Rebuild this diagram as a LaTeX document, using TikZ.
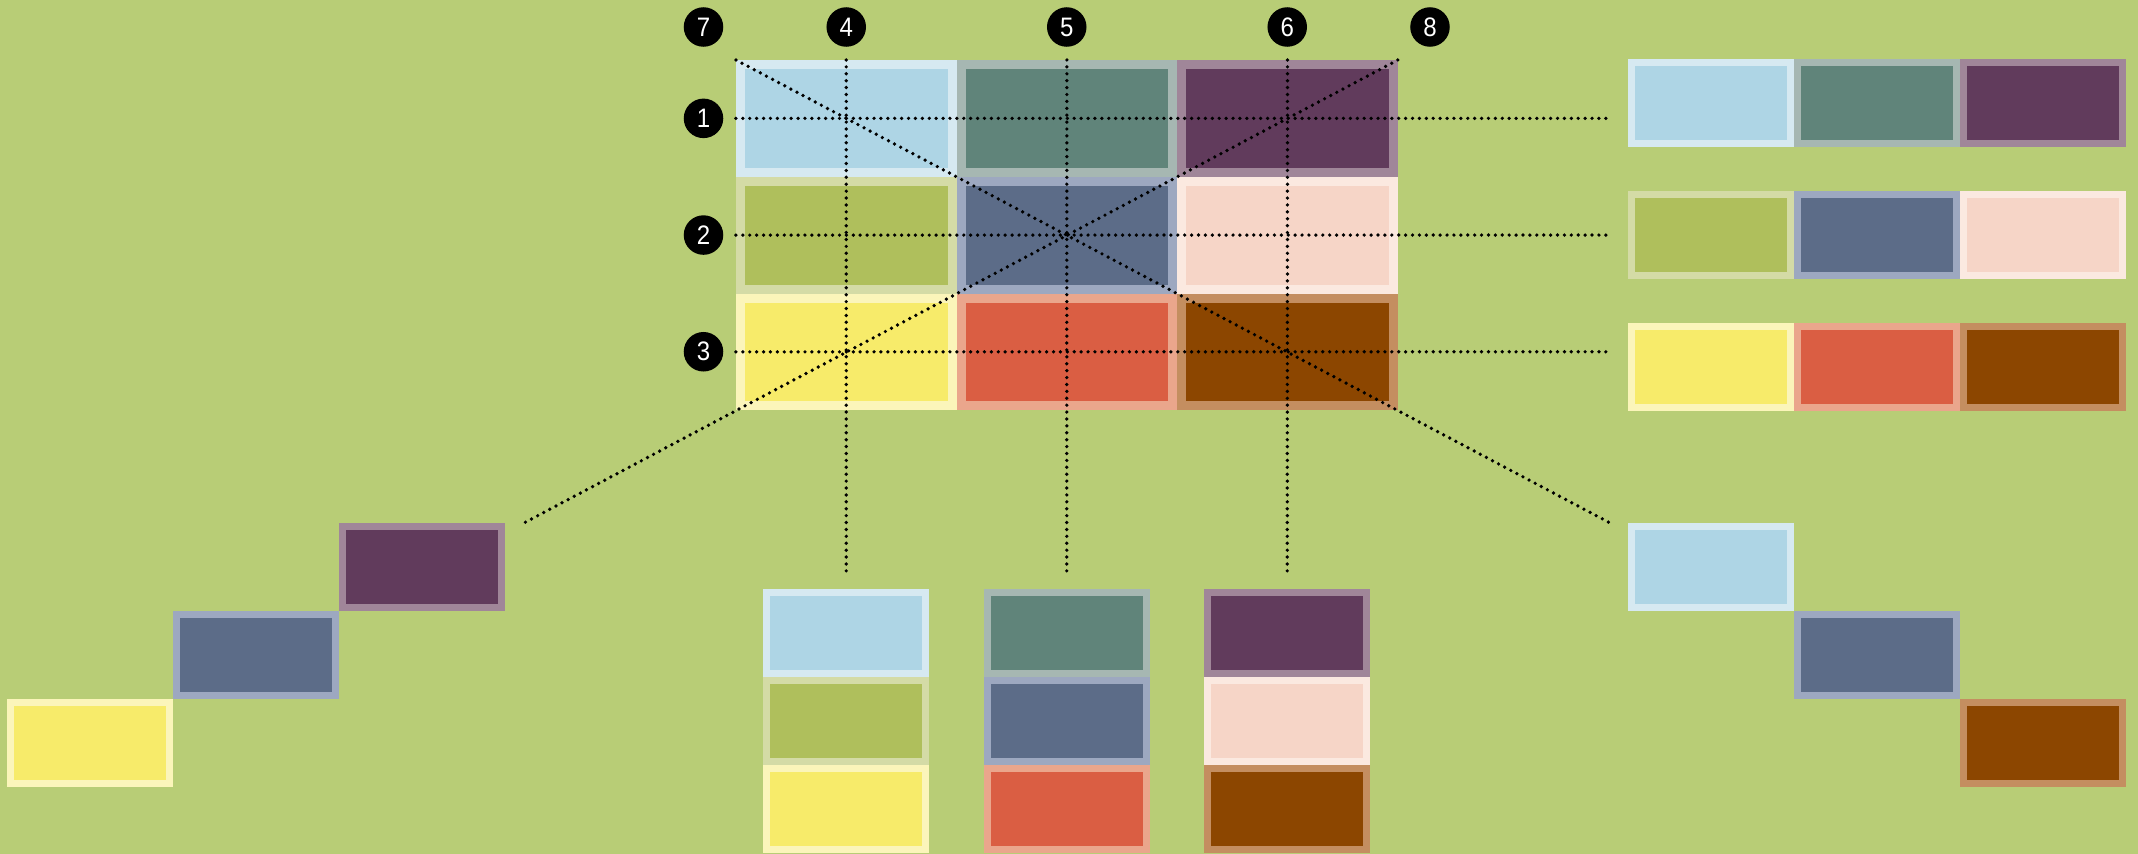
\documentclass[tikz,border=0pt]{standalone}
\usepackage{fontspec}
\newfontfamily\numfont[FakeStretch=0.9]{Liberation Sans}
\usetikzlibrary{positioning}
\definecolor{bgreen}{RGB}{184,205,118}
\definecolor{cblue}{RGB}{174,213,229}
\definecolor{cblueb}{RGB}{214,233,241}
\definecolor{cteal}{RGB}{96,132,122}
\definecolor{ctealb}{RGB}{166,183,178}
\definecolor{cplum}{RGB}{97,59,92}
\definecolor{cplumb}{RGB}{160,134,153}
\definecolor{colive}{RGB}{175,191,92}
\definecolor{coliveb}{RGB}{212,219,166}
\definecolor{cslate}{RGB}{92,108,136}
\definecolor{cslateb}{RGB}{157,168,192}
\definecolor{cpeach}{RGB}{246,213,199}
\definecolor{cpeachb}{RGB}{251,233,224}
\definecolor{cyell}{RGB}{247,235,106}
\definecolor{cyellb}{RGB}{251,245,186}
\definecolor{cred}{RGB}{218,94,67}
\definecolor{credb}{RGB}{234,166,140}
\definecolor{cbrown}{RGB}{140,70,0}
\definecolor{cbrownb}{RGB}{196,142,96}
\tikzset{
  cell/.style 2 args={fill=#1, draw=#2, line width=0.07cm, inner sep=0pt,
              minimum width=1.59cm, minimum height=0.81cm},
  gcell/.style 2 args={fill=#1, draw=#2, line width=0.09cm, inner sep=0pt,
              minimum width=2.115cm, minimum height=1.077cm},
  dotl/.style={black, line width=0.037cm, dash pattern=on 0pt off 0.069cm, line cap=round},
  num/.style={circle, fill=black, text=white, minimum size=0.395cm, inner sep=0pt,
              font=\numfont\fontsize{7.6}{8}\selectfont},
}

\begin{document}
\begin{tikzpicture}[x=0.01cm, y=-0.01cm]
    \fill[bgreen] (0,0) rectangle (2138,854);
    \useasboundingbox (0,0) rectangle (2138,854);
    % the 3x3 grid
    \node[gcell={cblue}{cblueb}] (g11) at (846.25,118.35) {};
    \node[gcell={cteal}{ctealb}, right=0pt of g11] (g12) {};
    \node[gcell={cplum}{cplumb}, right=0pt of g12] (g13) {};
    \node[gcell={colive}{coliveb}, below=0pt of g11] (g21) {};
    \node[gcell={cslate}{cslateb}, right=0pt of g21] (g22) {};
    \node[gcell={cpeach}{cpeachb}, right=0pt of g22] (g23) {};
    \node[gcell={cyell}{cyellb}, below=0pt of g21] (g31) {};
    \node[gcell={cred}{credb}, right=0pt of g31] (g32) {};
    \node[gcell={cbrown}{cbrownb}, right=0pt of g32] (g33) {};
    % rows
    \node[cell={cblue}{cblueb}] (r11) at (1711,103) {};
    \node[cell={cteal}{ctealb}, right=0pt of r11] (r12) {};
    \node[cell={cplum}{cplumb}, right=0pt of r12] (r13) {};
    \node[cell={colive}{coliveb}] (r21) at (1711,235) {};
    \node[cell={cslate}{cslateb}, right=0pt of r21] (r22) {};
    \node[cell={cpeach}{cpeachb}, right=0pt of r22] (r23) {};
    \node[cell={cyell}{cyellb}] (r31) at (1711,367) {};
    \node[cell={cred}{credb}, right=0pt of r31] (r32) {};
    \node[cell={cbrown}{cbrownb}, right=0pt of r32] (r33) {};
    % columns
    \node[cell={cblue}{cblueb}] (c41) at (846.25,633) {};
    \node[cell={colive}{coliveb}, below=0pt of c41] (c42) {};
    \node[cell={cyell}{cyellb}, below=0pt of c42] (c43) {};
    \node[cell={cteal}{ctealb}] (c51) at (1066.75,633) {};
    \node[cell={cslate}{cslateb}, below=0pt of c51] (c52) {};
    \node[cell={cred}{credb}, below=0pt of c52] (c53) {};
    \node[cell={cplum}{cplumb}] (c61) at (1287.25,633) {};
    \node[cell={cpeach}{cpeachb}, below=0pt of c61] (c62) {};
    \node[cell={cbrown}{cbrownb}, below=0pt of c62] (c63) {};
    % diagonals
    \node[cell={cblue}{cblueb}] (s71) at (1711,567) {};
    \node[cell={cslate}{cslateb}, below right=0pt and 0pt of s71] (s72) {};
    \node[cell={cbrown}{cbrownb}, below right=0pt and 0pt of s72] (s73) {};
    \node[cell={cplum}{cplumb}] (s81) at (422,567) {};
    \node[cell={cslate}{cslateb}, below left=0pt and 0pt of s81] (s82) {};
    \node[cell={cyell}{cyellb}, below left=0pt and 0pt of s82] (s83) {};
    % free ends of the dotted lines
    \coordinate (e1) at (1612,118.35);
    \coordinate (e2) at (1612,235.05);
    \coordinate (e3) at (1612,351.75);
    \coordinate (e4) at (846.25,572);
    \coordinate (e5) at (1066.75,572);
    \coordinate (e6) at (1287.25,572);
    \coordinate (e7) at (1612,524);
    \coordinate (e8) at (522,524);
    \draw[dotl] (g11.west) -- (e1);
    \draw[dotl] (g21.west) -- (e2);
    \draw[dotl] (g31.west) -- (e3);
    \draw[dotl] (g11.north) -- (e4);
    \draw[dotl] (g12.north) -- (e5);
    \draw[dotl] (g13.north) -- (e6);
    \draw[dotl] (g11.north west) -- (e7);
    \draw[dotl] (g13.north east) -- (e8);
    % numbers
    \node[num] (n1) at (703.5,118.35) {1};
    \node[num] (n2) at (703.5,235.05) {2};
    \node[num] (n3) at (703.5,351.75) {3};
    \node[num] (n4) at (846.25,27) {4};
    \node[num] (n5) at (1066.75,27) {5};
    \node[num] (n6) at (1287.25,27) {6};
    \node[num] (n7) at (703.5,27) {7};
    \node[num] (n8) at (1430,27) {8};
\end{tikzpicture}
\end{document}
